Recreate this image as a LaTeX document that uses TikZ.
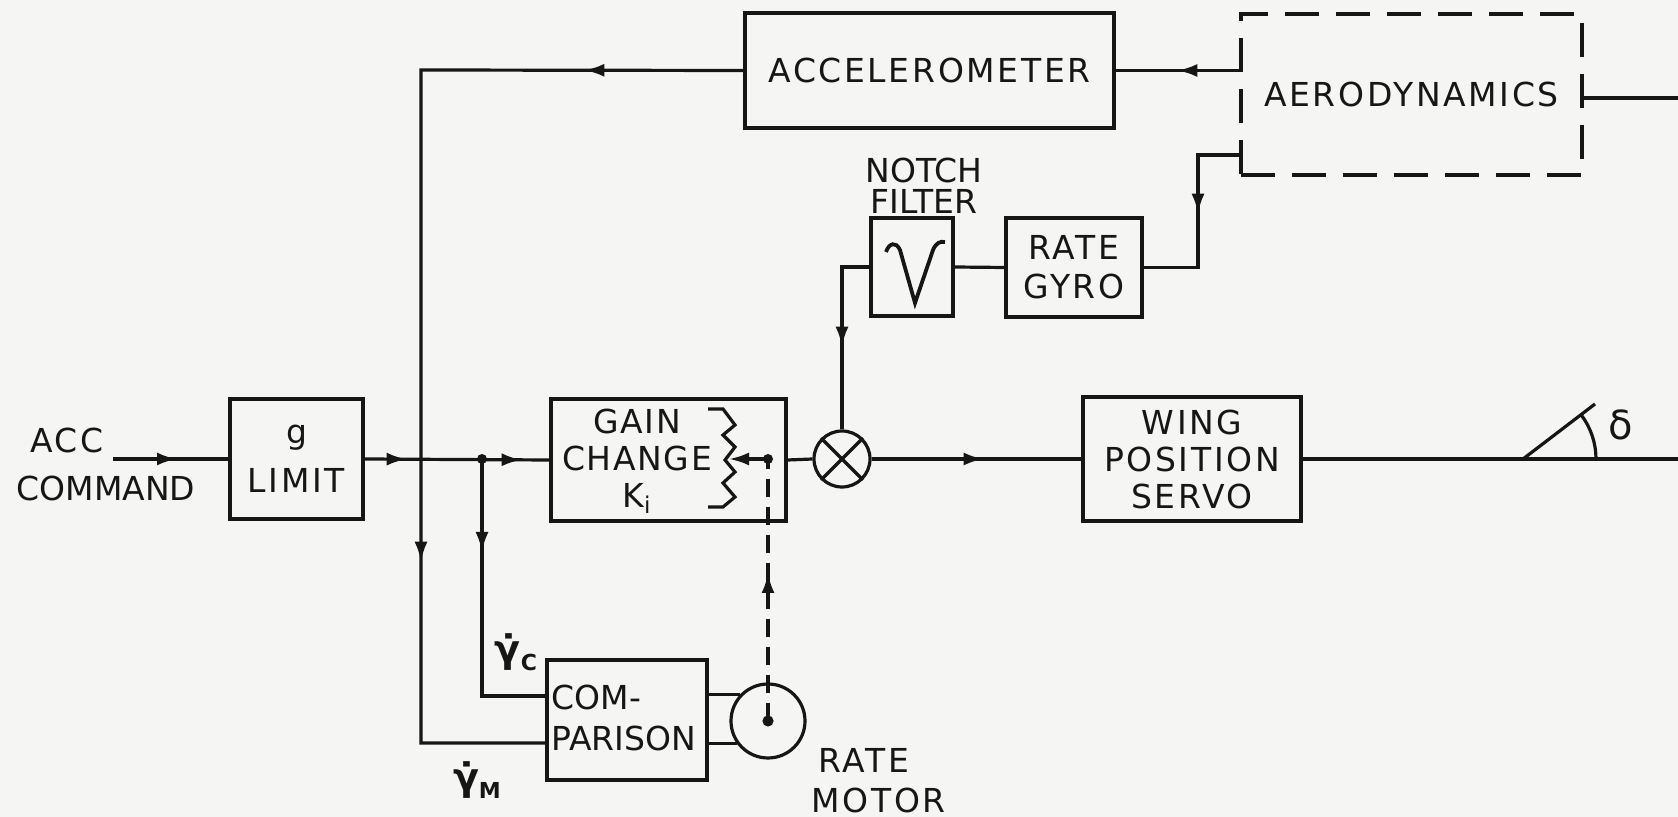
\documentclass[tikz,border=0pt]{standalone}
\usepackage{fontspec}
\setmainfont{DejaVu Sans}[LetterSpace=8]
\usetikzlibrary{arrows.meta,decorations.markings}
\definecolor{paper}{RGB}{245,245,243}
\definecolor{ink}{RGB}{22,22,22}
\newcommand\diafont{\fontsize{16.5}{18.5}\selectfont}
\newcommand\tightfont{\diafont\addfontfeature{LetterSpace=0}}
\newcommand\gdotsym[1]{{\fontsize{19}{20}\selectfont\bfseries\addfontfeature{LetterSpace=0}γ̇}\raisebox{-4pt}{\fontsize{11}{12}\selectfont\bfseries\addfontfeature{LetterSpace=0}#1}}
\tikzset{
  >={Latex[length=10pt,width=6.5pt]},
  ah/.style={postaction={decorate,decoration={markings,mark=at position #1 with {\arrow{>}}}}},
  blk/.style={draw=ink,line width=1.7pt,inner sep=0pt,align=center,font=\diafont},
  lbl/.style={font=\diafont,inner sep=0pt,align=center},
  ctl/.style={dash pattern=on 9pt off 5pt},
  aerodash/.style={dash pattern=on 17pt off 8.5pt}
}
\begin{document}
\begin{tikzpicture}[x=0.5pt,y=-0.5pt,line width=1.6pt,color=ink]
\fill[paper] (0,0) rectangle (1678,817);
\useasboundingbox (0,0) rectangle (1678,817);

% blocks
\node[blk,minimum width=66.5pt,minimum height=60pt] (glim) at (296.5,459) {g\\[6pt]LIMIT};
\node[blk,minimum width=117.5pt,minimum height=61pt] (gain) at (668.5,460) {};
\node[lbl,font={\diafont\addfontfeature{LetterSpace=5}}] (gaintxt) at (637,461) {GAIN\\CHANGE\\K\textsubscript{i}};
\node[blk,minimum width=80pt,minimum height=60pt] (comp) at (627,720) {};
\node[lbl,align=left,anchor=west,font=\tightfont] (comptxt) at (550,718) {COM-\\[2pt]PARISON};
\node[blk,minimum width=184.5pt,minimum height=57.5pt] (accel) at (929.5,70.5) {ACCELEROMETER};
\node[blk,aerodash,minimum width=170.5pt,minimum height=80.5pt] (aero) at (1411.5,94.5) {AERODYNAMICS};
\node[blk,minimum width=41pt,minimum height=49pt] (notch) at (912,267) {};
\node[lbl,font={\fontsize{16.5}{15.5}\selectfont\addfontfeature{LetterSpace=0}}] (notchlbl) at (924,186) {NOTCH\\FILTER};
\node[blk,minimum width=68pt,minimum height=49.5pt] (gyro) at (1074,267.5) {RATE\\[1pt]GYRO};
\node[blk,minimum width=109pt,minimum height=62pt] (wing) at (1192,459) {WING\\POSITION\\SERVO};
\node[draw=ink,circle,line width=1.6pt,minimum size=28pt,inner sep=0pt] (mult) at (842,459) {};
\node[draw=ink,circle,line width=1.6pt,minimum size=37pt,inner sep=0pt] (motor) at (768,721) {};

% multiplier cross
\draw (mult.45) -- (mult.225) (mult.135) -- (mult.315);

% notch symbol
\draw[line width=1.9pt] (886,252) .. controls (889,243) and (896,241) .. (900,250) -- (915,303) -- (933,250) .. controls (936,243) and (940,241) .. (945,242);

% gain potentiometer zigzag
\draw (708,409) -- (723,409) -- (735,425) -- (723,435) -- (735,447) -- (725,460) -- (735,472) -- (723,483) -- (735,497) -- (723,507) -- (708,507);

% labels
\node[lbl] (acclbl) at (67,440) {ACC};
\node[lbl,font=\tightfont] (cmdlbl) at (106,488) {COMMAND};
\node[lbl,anchor=west] (ratelbl) at (817,760) {RATE};
\node[lbl,anchor=west] (motorlbl) at (810,800) {MOTOR};
\node[lbl,font=\fontsize{20}{22}\selectfont] (dlbl) at (1621,425) {δ};
\node[lbl] (gclbl) at (516,652) {\gdotsym{C}};
\node[lbl] (gmlbl) at (477,780) {\gdotsym{M}};

% coordinates
\coordinate (accin) at (113,459);
\coordinate (j2) at (482,459);
\coordinate (fbc) at (421,70);
\coordinate (fbb) at (421,743);
\coordinate (jb) at (482,696);
\coordinate (kin) at (768,459);
\coordinate (zz) at (729,459);
\coordinate (ac) at (1198,155);
\coordinate (nc) at (842,267);
\coordinate (aout) at (1678,98);
\coordinate (outr) at (1678,459);
\coordinate (dv) at (1523,459);
\coordinate (dt) at (1595,404);

% connectors
\draw[ah=32pt] (accin) -- (glim.west);
\draw[ah=21pt,ah=78.5pt] (glim.east) -- (gain.west);
\draw[ah=79.5pt,ah=407pt] (accel.west) -- (fbc) -- (fbb) -- (comp.west |- fbb);
\draw[ah=46.5pt] (j2) -- (jb) -- (comp.west |- jb);
\fill (j2) circle[radius=2.5pt];
\draw (comp.east |- motor.137.5) -- (motor.137.5);
\draw (comp.east |- motor.216.5) -- (motor.216.5);
\draw[ctl,ah=74pt] (motor.center) -- (kin);
\fill (motor.center) circle[radius=2.8pt];
\fill (kin) circle[radius=2.5pt];
\draw[-{Latex[length=10pt,width=6.5pt]}] (kin) -- (zz);
\draw (gain.east) -- (mult.west);
\draw[ah=56pt] (mult.east) -- (wing.west);
\draw (wing.east) -- (outr);
\draw[ah=31pt] (aero.west |- accel.east) -- (accel.east);
\draw[ah=50pt] (aero.west |- ac) -- (ac) -- (ac |- gyro.east) -- (gyro.east);
\draw (gyro.west) -- (notch.east);
\draw[ah=53.5pt] (notch.west) -- (nc) -- (mult.north);
\draw (aero.east |- aout) -- (aout);

% deflection angle
\draw (dv) -- (dt);
\draw (1596,459) arc[start angle=0,end angle=37,radius=36.5pt];
\end{tikzpicture}
\end{document}
